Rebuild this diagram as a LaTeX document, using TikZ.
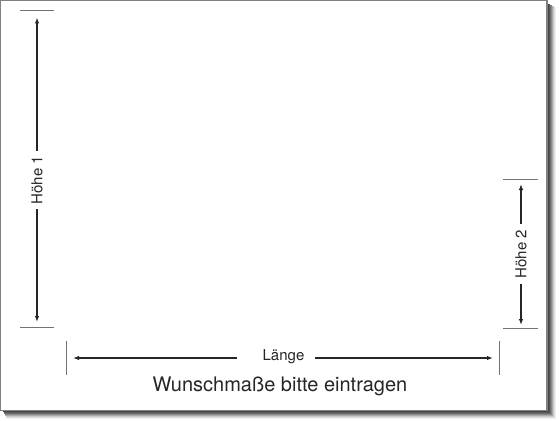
\documentclass[tikz,border=0pt]{standalone}
\usepackage{fontspec}
\setmainfont{TeX Gyre Heros}
\usetikzlibrary{arrows.meta}
\tikzset{
  tick/.style={draw=black!55, line width=1pt},
  arr/.style={draw=black!85, line width=1.2pt, -{Latex[length=6pt,width=4.5pt]}},
  dimlabel/.style={font=\fontsize{15}{18}\selectfont, text=black!85, inner sep=0pt},
  note/.style={font=\fontsize{20}{24}\selectfont, text=black!85, inner sep=0pt},
}
\begin{document}
\begin{tikzpicture}[x=1pt,y=-1pt]
\useasboundingbox (0,0) rectangle (559,420);
\fill[white] (0,0) rectangle (559,420);
% shadow
\foreach \i/\c in {9/6,8/12,7/22,6/34,5/46,4/58,3/66,2/72,1/76}{
  \fill[black!\c] (2+\i/2,3+\i/2) rectangle (546.5+\i,410+\i);
}
\filldraw[fill=white, draw=black!50, line width=1.4pt] (0.7,0.7) rectangle (547,410.5);

% Hoehe 1
\draw[tick] (20,11) -- (54,11);
\draw[tick] (20,327) -- (54,327);
\coordinate (h1t) at (37,17.5);
\coordinate (h1b) at (37,322);
\node[dimlabel, rotate=90, inner xsep=5pt] (h1) at (37,180) {Höhe 1};
\draw[arr] (h1) -- (h1t);
\draw[arr] (h1) -- (h1b);

% Hoehe 2
\draw[tick] (503,179) -- (538,179);
\draw[tick] (503,328) -- (538,328);
\coordinate (h2t) at (521,184);
\coordinate (h2b) at (521,325);
\node[dimlabel, rotate=90, inner xsep=5.5pt] (h2) at (521,254) {Höhe 2};
\draw[arr] (h2) -- (h2t);
\draw[arr] (h2) -- (h2b);

% Laenge
\draw[tick] (66,341) -- (66,375);
\draw[tick] (499,341) -- (499,375);
\node[dimlabel] (lg) at (283.5,357) {Länge};
\coordinate (la) at (237,358);
\coordinate (lb) at (315,358);
\coordinate (lt1) at (73,358);
\coordinate (lt2) at (493,358);
\draw[arr] (la) -- (lt1);
\draw[arr] (lb) -- (lt2);

\node[note] (wn) at (280,386) {Wunschmaße bitte eintragen};
\end{tikzpicture}
\end{document}
